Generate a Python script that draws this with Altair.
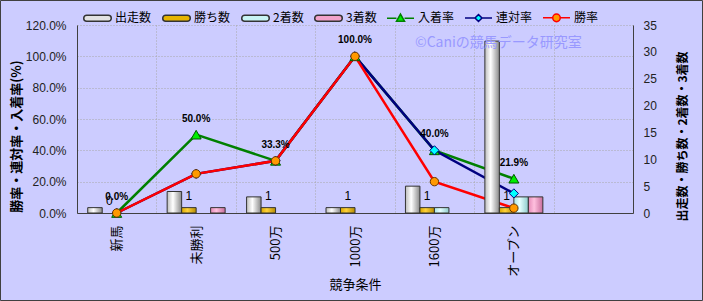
import altair as alt
import pandas as pd

# ---- data ----
categories = ["新馬", "未勝利", "500万", "1000万", "1600万", "オープン"]
bar_series = ["出走数", "勝ち数", "2着数", "3着数"]
runs = [1, 4, 3, 1, 5, 32]
wins = [0, 1, 1, 1, 1, 1]
seconds = [0, 0, 0, 0, 1, 3]
thirds = [0, 1, 0, 0, 0, 3]

rate_series = ["入着率", "連対率", "勝率"]
place_rate = [0.0, 0.50, 0.333, 1.00, 0.40, 0.219]
rentai_rate = [0.0, 0.25, 0.333, 1.00, 0.40, 0.125]
win_rate = [0.0, 0.25, 0.333, 1.00, 0.20, 0.031]

left_ticks = [0.0, 0.2, 0.4, 0.6, 0.8, 1.0, 1.2]
right_ticks = [0, 5, 10, 15, 20, 25, 30, 35]
watermark = "©Caniの競馬データ研究室"

FONT = "Noto Sans CJK JP"

bar_rows = []
for s, arr in zip(bar_series, [runs, wins, seconds, thirds]):
    for i, c in enumerate(categories):
        bar_rows.append({"category": c, "series": s, "value": arr[i]})
bars_df = pd.DataFrame(bar_rows)

rate_rows = []
for s, arr in zip(rate_series, [place_rate, rentai_rate, win_rate]):
    for i, c in enumerate(categories):
        rate_rows.append({"category": c, "series": s, "rate": arr[i], "idx": i})
rates_df = pd.DataFrame(rate_rows)

# ---- styles ----
line_color = {"入着率": "#008000", "連対率": "#000080", "勝率": "#FF0000"}
marker = {
    "入着率": dict(shape="triangle-up", size=100, fill="#00EE00", stroke="#005500"),
    "連対率": dict(shape="diamond", size=85, fill="#00FFFF", stroke="#000080"),
    "勝率": dict(shape="circle", size=70, fill="#FF9900", stroke="#663300"),
}


def hgrad(c0, c1, c2):
    return {
        "gradient": "linear", "x1": 0, "x2": 1, "y1": 0, "y2": 0,
        "stops": [
            {"offset": 0, "color": c0},
            {"offset": 0.4, "color": c1},
            {"offset": 1, "color": c2},
        ],
    }


bar_fill = {
    "出走数": hgrad("#BDBDBD", "#FFFFFF", "#8A8A8A"),
    "勝ち数": hgrad("#D9A800", "#FFD23A", "#B58B00"),
    "2着数": hgrad("#A8E4E4", "#E6FFFF", "#8CCBCB"),
    "3着数": hgrad("#E58AB8", "#FFC0DE", "#C86C9C"),
}

GRID = dict(grid=True, gridColor="#A8A8A8", gridDash=[1, 2], gridWidth=1)

# ---- encodings ----
x_axis = alt.Axis(
    title="競争条件", titleFont=FONT, titleFontSize=13, titleFontWeight="normal",
    titleColor="#000000", titleY=71, titleBaseline="middle",
    labelAngle=270, labelFont=FONT, labelFontSize=13, labelColor="#000000",
    labelPadding=12, ticks=False, tickBand="extent",
    domainColor="#404040", domainWidth=1, **GRID,
)
x_enc = alt.X(
    "category:N", sort=categories,
    scale=alt.Scale(domain=categories, paddingInner=0, paddingOuter=0.5, align=0),
    axis=x_axis,
)

y_left_scale = alt.Scale(domain=[0, 1.2], nice=False, zero=True)
left_axis = alt.Axis(
    orient="left", values=left_ticks, format=".1%",
    labelFont="Liberation Sans", labelFontSize=12, labelColor="#222222", labelPadding=11,
    ticks=False, domainColor="#404040", domainWidth=1, **GRID,
    title="勝率・連対率・入着率(%)", titleFont=FONT, titleFontSize=13,
    titleFontWeight="bold", titleColor="#000000", titleAngle=270,
    titleX=-61, titleY=111, titleAlign="center", titleBaseline="middle",
)
y_left = alt.Y("rate:Q", scale=y_left_scale, axis=left_axis)
y_left_noaxis = alt.Y("rate:Q", scale=y_left_scale, axis=None)

right_axis = alt.Axis(
    orient="right", values=right_ticks, format="d",
    labelFont="Liberation Sans", labelFontSize=12, labelColor="#222222", labelPadding=10,
    ticks=False, grid=False, domainColor="#404040", domainWidth=1,
    title="出走数・勝ち数・2着数・3着数", titleFont=FONT, titleFontSize=12,
    titleFontWeight="bold", titleColor="#000000", titleAngle=270,
    titleX=49, titleY=111, titleAlign="center", titleBaseline="middle",
)
y_right = alt.Y("value:Q", scale=alt.Scale(domain=[0, 35], nice=False), axis=right_axis)
xoff = alt.XOffset(
    "series:N", sort=bar_series,
    scale=alt.Scale(domain=bar_series, paddingInner=0, paddingOuter=0.74),
)

# ---- lines (under bars) ----
line_layers = []
for s in rate_series:
    line_layers.append(
        alt.Chart(rates_df).transform_filter(alt.datum.series == s)
        .mark_line(color=line_color[s], strokeWidth=2.5)
        .encode(x=x_enc, y=y_left, order=alt.Order("idx:Q"))
    )
lines = alt.layer(*line_layers)

# ---- bars ----
bar_layers = []
for s in bar_series:
    bar_layers.append(
        alt.Chart(bars_df).transform_filter(
            (alt.datum.series == s) & (alt.datum.value > 0)
        )
        .mark_bar(fill=bar_fill[s], stroke="#333333", strokeWidth=1)
        .encode(x=x_enc, xOffset=xoff, y=y_right)
    )
count_text = (
    alt.Chart(bars_df).transform_filter(alt.datum.series == "勝ち数")
    .mark_text(font="Liberation Sans", fontSize=12, color="#000000", dy=-12)
    .encode(x=x_enc, xOffset=xoff, y=y_right, text=alt.Text("value:Q", format="d"))
)
bars = alt.layer(*bar_layers, count_text)

# ---- markers and rate labels (over bars) ----
point_layers = []
for s in rate_series:
    m = marker[s]
    point_layers.append(
        alt.Chart(rates_df).transform_filter(alt.datum.series == s)
        .mark_point(filled=True, opacity=1, strokeWidth=1, shape=m["shape"],
                    size=m["size"], fill=m["fill"], stroke=m["stroke"])
        .encode(x=x_enc, y=y_left_noaxis)
    )
pct_text = (
    alt.Chart(rates_df).transform_filter(alt.datum.series == "入着率")
    .mark_text(font="Liberation Sans", fontSize=10, fontWeight="bold",
               color="#000000", dy=-16)
    .encode(x=x_enc, y=y_left_noaxis, text=alt.Text("rate:Q", format=".1%"))
)
points = alt.layer(*point_layers, pct_text)

# ---- legend (symbols drawn from scales only) ----
legend_names = bar_series + rate_series
capsule = "M-0.8,-0.22H0.8A0.22,0.22 0 0 1 0.8,0.22H-0.8A0.22,0.22 0 0 1 -0.8,-0.22Z"
tri = "M-1,0H-0.3M0.3,0H1M0,-0.3L0.3,0.24L-0.3,0.24Z"
dia = "M-1,0H-0.26M0.26,0H1M0,-0.26L0.26,0L0,0.26L-0.26,0Z"
circ = "M-1,0H-0.28M0.28,0H1M-0.28,0A0.28,0.28 0 1 1 0.28,0A0.28,0.28 0 1 1 -0.28,0Z"
legend_fill = ["#E2E2E2", "#E6B400", "#C8F4F4", "#F2A2CA", "#00EE00", "#00FFFF", "#FF9900"]
legend_stroke = ["#333333", "#333333", "#333333", "#333333", "#008000", "#000080", "#FF0000"]
legend_shape = [capsule, capsule, capsule, capsule, tri, dia, circ]

leg = alt.Legend(
    title=None, orient="none", legendX=6, legendY=-22, direction="horizontal",
    symbolSize=729, symbolStrokeWidth=1.5, labelFont=FONT, labelFontSize=12,
    labelColor="#000000", labelOffset=3, columnPadding=7, padding=0,
)
legend_layer = (
    alt.Chart(bars_df).transform_filter("false")
    .mark_point(filled=True, opacity=1)
    .encode(
        fill=alt.Fill("series:N", scale=alt.Scale(domain=legend_names, range=legend_fill), legend=leg),
        stroke=alt.Stroke("series:N", scale=alt.Scale(domain=legend_names, range=legend_stroke), legend=leg),
        shape=alt.Shape("series:N", scale=alt.Scale(domain=legend_names, range=legend_shape), legend=leg),
    )
)

# ---- decorations: outer frame and watermark ----
one = pd.DataFrame({"a": [0]})
frame = (
    alt.Chart(one)
    .mark_rect(fillOpacity=0, stroke="#404040", strokeWidth=1)
    .encode(x=alt.value(-76.5), x2=alt.value(625.5), y=alt.value(-24.5), y2=alt.value(275.5))
)
mark_wm = (
    alt.Chart(one)
    .mark_text(text=watermark, font=FONT, fontSize=14, color="#9999FF",
               align="left", baseline="middle")
    .encode(x=alt.value(338), y=alt.value(18))
)

chart = (
    alt.layer(lines, bars, points, legend_layer, frame, mark_wm)
    .resolve_scale(y="independent")
    .properties(
        width=556, height=188,
        autosize=alt.AutoSizeParams(type="none"),
        padding={"left": 77, "top": 25, "right": 70, "bottom": 88},
        background="#CCCCFF",
    )
    .configure_view(fill="#FFFFCC", stroke=None)
)

chart.save("out.html", embed_options={"renderer": "svg", "actions": False})
